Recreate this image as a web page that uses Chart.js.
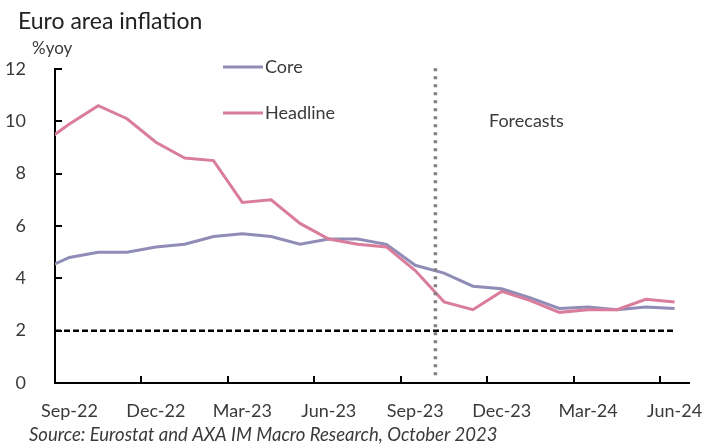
<!DOCTYPE html>
<html>
<head>
<meta charset="utf-8">
<script src="https://cdn.jsdelivr.net/npm/chart.js@4.4.1/dist/chart.umd.min.js"></script>
<style>
  html, body { margin: 0; padding: 0; background: #fff; }
  #wrap { width: 706px; height: 446px; position: relative; }
</style>
</head>
<body>
<div id="wrap"><canvas id="chart"></canvas></div>
<script>
// monthly data, first month sits just left of the axis start (Sep-22)
const months = ['Aug-22', 'Sep-22', 'Oct-22', 'Nov-22', 'Dec-22', 'Jan-23', 'Feb-23', 'Mar-23',
  'Apr-23', 'May-23', 'Jun-23', 'Jul-23', 'Aug-23', 'Sep-23', 'Oct-23', 'Nov-23', 'Dec-23',
  'Jan-24', 'Feb-24', 'Mar-24', 'Apr-24', 'May-24', 'Jun-24'];
const headline = [9.1, 9.9, 10.6, 10.1, 9.2, 8.6, 8.5, 6.9, 7.0, 6.1, 5.5, 5.3, 5.2, 4.3,
  3.1, 2.8, 3.5, 3.15, 2.7, 2.8, 2.8, 3.2, 3.1];
const core = [4.3, 4.8, 5.0, 5.0, 5.2, 5.3, 5.6, 5.7, 5.6, 5.3, 5.5, 5.5, 5.3, 4.5,
  4.2, 3.7, 3.6, 3.25, 2.85, 2.9, 2.8, 2.9, 2.85];
const tickLabels = ['Sep-22', 'Dec-22', 'Mar-23', 'Jun-23', 'Sep-23', 'Dec-23', 'Mar-24', 'Jun-24'];
const target = 2;
const forecastStart = 13.2; // months after Sep-22
const forecastSpan = [0.3, 12.15];

const FONT = 'Lato';
const TEXT = '#3a3a3a';
const CORE_COLOR = '#8f8db6';
const HEAD_COLOR = '#da7d9c';

// x = months since start of Sep-22, points drawn mid-month
const monthX = (i) => i - 1 + 0.5;
const toPoints = (arr) => arr.map((v, i) => ({ x: monthX(i), y: v }));
const lastX = monthX(months.length - 1);

const extras = {
  id: 'extras',
  afterDraw(chart) {
    const ctx = chart.ctx;
    const xs = chart.scales.x, ys = chart.scales.y;
    const area = chart.chartArea;
    ctx.save();
    // inward tick marks
    ctx.strokeStyle = '#000';
    ctx.lineWidth = 2;
    for (let m = 0; m <= 21; m += 3) {
      const px = Math.round(xs.getPixelForValue(m));
      ctx.beginPath();
      ctx.moveTo(px, area.bottom);
      ctx.lineTo(px, area.bottom - 7);
      ctx.stroke();
    }
    for (let v = 0; v <= 12; v += 2) {
      const py = Math.round(ys.getPixelForValue(v));
      ctx.beginPath();
      ctx.moveTo(area.left, py);
      ctx.lineTo(area.left + 7, py);
      ctx.stroke();
    }

    ctx.textBaseline = 'middle';
    ctx.textAlign = 'left';
    ctx.fillStyle = '#222';
    ctx.font = `23px ${FONT}`;
    ctx.fillText('Euro area inflation', 18, 22);

    ctx.fillStyle = TEXT;
    ctx.font = `17px ${FONT}`;
    ctx.fillText('%yoy', 32, 49);

    // legend
    ctx.font = `18px ${FONT}`;
    [['Core', CORE_COLOR, 67], ['Headline', HEAD_COLOR, 113]].forEach(([label, color, y]) => {
      ctx.strokeStyle = color;
      ctx.lineWidth = 3;
      ctx.beginPath();
      ctx.moveTo(223, y);
      ctx.lineTo(263, y);
      ctx.stroke();
      ctx.fillStyle = TEXT;
      ctx.fillText(label, 265, y);
    });

    ctx.fillText('Forecasts', 489, 121);

    ctx.font = `italic 18.5px ${FONT}`;
    ctx.fillText('Source: Eurostat and AXA IM Macro Research, October 2023', 29, 435);
    ctx.restore();
  }
};

new Chart(document.getElementById('chart'), {
  type: 'line',
  data: {
    datasets: [
      {
        label: 'Forecast start',
        data: forecastSpan.map(v => ({ x: forecastStart, y: v })),
        borderColor: '#808080',
        borderWidth: 3.5,
        borderDash: [3, 5],
        borderCapStyle: 'butt',
        pointRadius: 0,
        clip: false,
        order: 0
      },
      {
        label: 'Target',
        data: [{ x: 0, y: target }, { x: lastX, y: target }],
        borderColor: '#000',
        borderWidth: 2.5,
        borderDash: [6, 3],
        pointRadius: 0,
        order: 1
      },
      {
        label: 'Headline',
        data: toPoints(headline),
        borderColor: HEAD_COLOR,
        borderWidth: 3,
        pointRadius: 0,
        tension: 0,
        order: 2
      },
      {
        label: 'Core',
        data: toPoints(core),
        borderColor: CORE_COLOR,
        borderWidth: 3,
        pointRadius: 0,
        tension: 0,
        order: 3
      }
    ]
  },
  options: {
    responsive: true,
    maintainAspectRatio: false,
    animation: false,
    layout: { padding: { top: 69, right: 17, left: 0, bottom: 0 } },
    plugins: {
      legend: { display: false },
      title: { display: false },
      tooltip: { enabled: false }
    },
    scales: {
      x: {
        type: 'linear',
        min: 0,
        max: 22,
        grid: { display: false },
        border: { color: '#000', width: 2 },
        afterBuildTicks: (s) => {
          s.ticks = tickLabels.map((t, i) => ({ value: i * 3 + 0.5 }));
        },
        afterFit: (s) => {
          s.height = 63;
          s.paddingLeft = 0;
          s.paddingRight = 0;
        },
        ticks: {
          autoSkip: false,
          maxRotation: 0,
          padding: 9,
          color: TEXT,
          font: { family: FONT, size: 18 },
          callback: (v, i) => tickLabels[i]
        }
      },
      y: {
        min: 0,
        max: 12,
        grid: { display: false },
        border: { color: '#000', width: 2 },
        afterFit: (s) => { s.width = 55; },
        ticks: {
          stepSize: 2,
          padding: 21,
          color: TEXT,
          font: { family: FONT, size: 18 }
        }
      }
    }
  },
  plugins: [extras]
});
</script>
</body>
</html>
